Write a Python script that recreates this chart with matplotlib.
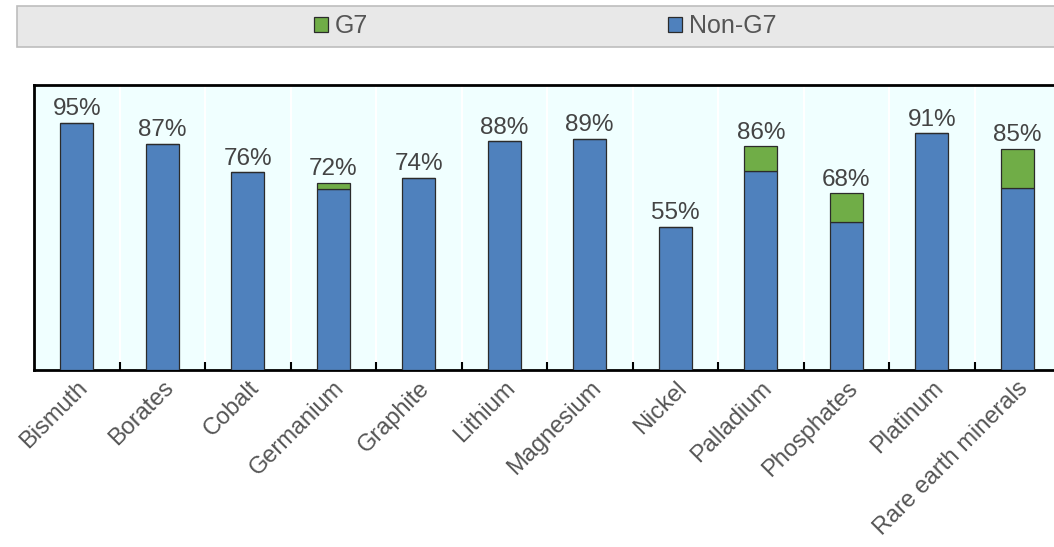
"""Share of critical mineral supply: G7 vs Non-G7, stacked bars."""

import matplotlib

matplotlib.use("Agg")

import matplotlib.pyplot as plt
from matplotlib.patches import Rectangle
import numpy as np

# data (percent of supply)
minerals = [
    "Bismuth", "Borates", "Cobalt", "Germanium", "Graphite", "Lithium",
    "Magnesium", "Nickel", "Palladium", "Phosphates", "Platinum",
    "Rare earth minerals",
]
non_g7 = [95, 87, 76, 69.5, 74, 88, 89, 55, 76.5, 57, 91, 70]
g7 = [0, 0, 0, 2.5, 0, 0, 0, 0, 9.5, 11, 0, 15]
totals = [95, 87, 76, 72, 74, 88, 89, 55, 86, 68, 91, 85]

BLUE = "#4f81bd"
GREEN = "#70ad47"
TEXT = "#444444"

plt.rcParams["font.family"] = ["Liberation Sans", "DejaVu Sans"]

fig = plt.figure(figsize=(10.54, 5.47), dpi=100)
ax = fig.add_axes([34 / 1054, 1 - 370 / 547, 1026 / 1054, 285 / 547])
ax.set_facecolor("#f0ffff")

x = np.arange(len(minerals))
ax.bar(x, non_g7, width=0.39, color=BLUE, edgecolor="#2b2b2b", linewidth=0.9,
       label="Non-G7", zorder=3)
ax.bar(x, g7, width=0.39, bottom=non_g7, color=GREEN, edgecolor="#2b2b2b",
       linewidth=0.9, label="G7", zorder=3)

for xi, t in zip(x, totals):
    ax.text(xi, t + 1.0, f"{t}%", ha="center", va="bottom", fontsize=17.5,
            color=TEXT)

ax.set_xlim(-0.5, len(minerals) - 0.5)
ax.set_ylim(0, 109.6)
ax.set_yticks([])

# category boundaries: white separators and short inward ticks
bounds = np.arange(len(minerals)) + 0.5
ax.set_xticks(bounds)
ax.set_xticklabels([])
ax.tick_params(axis="x", direction="in", length=6, width=1.5, color="black")
for b in bounds:
    ax.axvline(b, color="white", linewidth=1.5, zorder=1)

ax.set_xticks(x, minor=True)
ax.set_xticklabels(minerals, minor=True, rotation=45, ha="right", va="top",
                   rotation_mode="anchor", fontsize=17, color="#555555")
ax.tick_params(axis="x", which="minor", length=0, pad=5)

for side in ["left", "top", "bottom"]:
    ax.spines[side].set_linewidth(2)
    ax.spines[side].set_color("black")
ax.spines["right"].set_visible(False)

# legend strip at the top
fig.patches.append(Rectangle((17 / 1054, 1 - 47 / 547), 1.0, 41 / 547,
                             transform=fig.transFigure, facecolor="#e8e8e8",
                             edgecolor="#bdbdbd", linewidth=1.2))
h, l = ax.get_legend_handles_labels()
leg = fig.legend(h[::-1], l[::-1], loc="center", ncol=2,
                 bbox_to_anchor=(545 / 1054, 1 - 26 / 547), frameon=False,
                 fontsize=18, handlelength=0.56, handleheight=0.56,
                 handletextpad=0.28, columnspacing=12.0)
for t in leg.get_texts():
    t.set_color("#555555")

fig.savefig("out.png", dpi=100)
